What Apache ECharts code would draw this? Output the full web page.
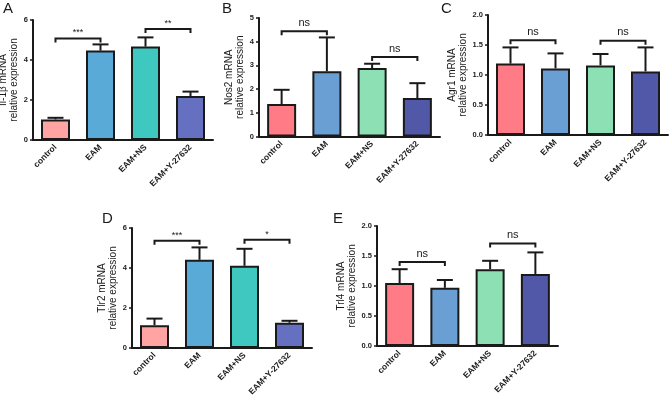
<!DOCTYPE html>
<html>
<head>
<meta charset="utf-8">
<script src="https://cdn.jsdelivr.net/npm/echarts@6/dist/echarts.min.js"></script>
<style>
  html, body { margin: 0; padding: 0; background: #fff; }
  #main { width: 669px; height: 399px; }
</style>
</head>
<body>
<div id="main"></div>
<script>
var categories = ['control', 'EAM', 'EAM+NS', 'EAM+Y-27632']

// mean and upper error (SD) per group
var il1bMean = [1.03, 4.47, 4.67, 2.2]
var il1bErr = [0.08, 0.31, 0.46, 0.22]
var nos2Mean = [1.37, 2.75, 2.89, 1.62]
var nos2Err = [0.6, 1.43, 0.18, 0.63]
var agr1Mean = [1.19, 1.11, 1.16, 1.06]
var agr1Err = [0.27, 0.25, 0.19, 0.4]
var tlr2Mean = [1.14, 4.41, 4.11, 1.26]
var tlr2Err = [0.33, 0.62, 0.85, 0.1]
var trl4Mean = [1.05, 0.97, 1.28, 1.2]
var trl4Err = [0.23, 0.13, 0.14, 0.36]

// significance brackets: [from, to, height, mark]
var il1bSig = [[0, 1, 5.08, '***'], [2, 3, 5.55, '**']]
var nos2Sig = [[0, 1, 4.44, 'ns'], [2, 3, 3.35, 'ns']]
var agr1Sig = [[0, 1, 1.58, 'ns'], [2, 3, 1.57, 'ns']]
var tlr2Sig = [[0, 1, 5.36, '***'], [2, 3, 5.41, '*']]
var trl4Sig = [[0, 1, 1.40, 'ns'], [2, 3, 1.71, 'ns']]

var colorsA = ['#ffa3a3', '#5aaad8', '#3ec8c0', '#6670c0']
var colorsB = ['#ff7b85', '#6a9fd4', '#8de0b4', '#5158a8']

var FONT = '"Liberation Sans", Arial, sans-serif'
var INK = '#1a1a1a'

var panels = [
  { letter: 'A', gene: 'Il-1β mRNA', mean: il1bMean, err: il1bErr, sig: il1bSig, max: 6, interval: 2, digits: 0,
    colors: colorsA, grid: { left: 33, top: 20, width: 180, height: 120 }, nameGap: 10, letterAt: [3, 1] },
  { letter: 'B', gene: 'Nos2 mRNA', mean: nos2Mean, err: nos2Err, sig: nos2Sig, max: 5, interval: 1, digits: 0,
    colors: colorsB, grid: { left: 259, top: 18, width: 181, height: 118.5 }, nameGap: 13, letterAt: [222, 1] },
  { letter: 'C', gene: 'Agr1 mRNA', mean: agr1Mean, err: agr1Err, sig: agr1Sig, max: 2, interval: 0.5, digits: 1,
    colors: colorsB, grid: { left: 488, top: 15, width: 180, height: 120 }, nameGap: 17, letterAt: [441, 1] },
  { letter: 'D', gene: 'Tlr2 mRNA', mean: tlr2Mean, err: tlr2Err, sig: tlr2Sig, max: 6, interval: 2, digits: 0,
    colors: colorsA, grid: { left: 132, top: 228, width: 180, height: 120 }, nameGap: 10, letterAt: [102, 211] },
  { letter: 'E', gene: 'Trl4 mRNA', mean: trl4Mean, err: trl4Err, sig: trl4Sig, max: 2, interval: 0.5, digits: 1,
    colors: colorsB, grid: { left: 377, top: 226, width: 181, height: 120 }, nameGap: 19, letterAt: [333, 211] },
]

var chart = echarts.init(document.getElementById('main'))

var grids = []
var xAxes = []
var yAxes = []
var series = []
var graphics = []

panels.forEach(function (p, i) {
  grids.push(Object.assign({ outerBoundsMode: 'none', containLabel: false }, p.grid))

  xAxes.push({
    type: 'category',
    gridIndex: i,
    data: categories,
    axisLine: { lineStyle: { color: INK, width: 2 } },
    axisTick: { show: false },
    axisLabel: {
      rotate: 45,
      margin: 6,
      interval: 0,
      color: INK,
      fontFamily: FONT,
      fontSize: 8.5,
      fontWeight: 'bold',
    },
  })

  yAxes.push({
    type: 'value',
    gridIndex: i,
    min: 0,
    max: p.max,
    interval: p.interval,
    name: p.gene + '\nrelative expression',
    nameLocation: 'middle',
    nameGap: p.nameGap,
    nameTextStyle: { color: INK, fontFamily: FONT, fontSize: 10, lineHeight: 11 },
    axisLine: { show: true, lineStyle: { color: INK, width: 2 } },
    axisTick: { show: true, length: 3, lineStyle: { color: INK, width: 1.5 } },
    splitLine: { show: false },
    axisLabel: {
      margin: 5,
      color: INK,
      fontFamily: FONT,
      fontSize: 7.5,
      fontWeight: 'bold',
      formatter: function (v) { return v.toFixed(p.digits) },
    },
  })

  series.push({
    type: 'bar',
    xAxisIndex: i,
    yAxisIndex: i,
    barWidth: 29,
    data: p.mean.map(function (m, k) {
      return { value: m, itemStyle: { color: p.colors[k], borderColor: INK, borderWidth: 2 } }
    }),
  })

  // upward error bars
  series.push({
    type: 'custom',
    xAxisIndex: i,
    yAxisIndex: i,
    clip: false,
    z: 3,
    encode: { x: 0, y: 1 },
    data: p.mean.map(function (m, k) { return [k, m, p.err[k]] }),
    renderItem: function (params, api) {
      var x = api.value(0)
      var m = api.value(1)
      var e = api.value(2)
      var a = api.coord([x, m])
      var b = api.coord([x, m + e])
      var st = { stroke: INK, lineWidth: 2 }
      return {
        type: 'group',
        children: [
          { type: 'line', shape: { x1: a[0], y1: a[1], x2: b[0], y2: b[1] }, style: st },
          { type: 'line', shape: { x1: b[0] - 8, y1: b[1], x2: b[0] + 8, y2: b[1] }, style: st },
        ],
      }
    },
  })

  // significance brackets
  series.push({
    type: 'custom',
    xAxisIndex: i,
    yAxisIndex: i,
    clip: false,
    z: 3,
    encode: { x: 0, y: 1 },
    data: p.sig.map(function (s) { return [s[0], s[2], s[1]] }),
    renderItem: function (params, api) {
      var a = api.coord([api.value(0), api.value(1)])
      var b = api.coord([api.value(2), api.value(1)])
      var mark = p.sig[params.dataIndex][3]
      var isNs = mark === 'ns'
      return {
        type: 'group',
        children: [
          {
            type: 'polyline',
            shape: { points: [[a[0], a[1] + 4], [a[0], a[1]], [b[0], a[1]], [b[0], a[1] + 4]] },
            style: { stroke: INK, lineWidth: 2, fill: null },
          },
          {
            type: 'text',
            style: {
              text: mark,
              x: (a[0] + b[0]) / 2,
              y: a[1] - (isNs ? 3 : 1),
              align: 'center',
              verticalAlign: 'bottom',
              fill: INK,
              fontFamily: FONT,
              fontSize: isNs ? 11 : 9,
            },
          },
        ],
      }
    },
  })

  graphics.push({
    type: 'text',
    left: p.letterAt[0],
    top: p.letterAt[1],
    style: { text: p.letter, fill: INK, fontFamily: FONT, fontSize: 15 },
  })
})

var option = {
  animation: false,
  backgroundColor: '#fff',
  grid: grids,
  xAxis: xAxes,
  yAxis: yAxes,
  series: series,
  graphic: graphics,
}

option && chart.setOption(option)
</script>
</body>
</html>
